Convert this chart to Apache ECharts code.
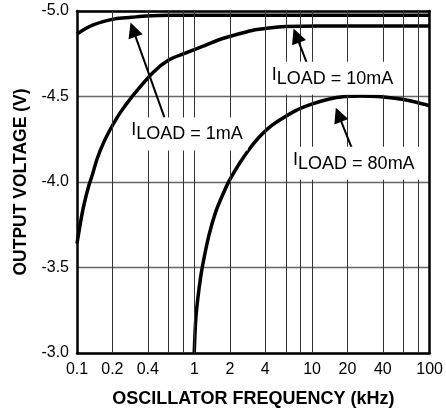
<!DOCTYPE html>
<html>
<head>
<meta charset="utf-8">
<script src="https://cdn.jsdelivr.net/npm/echarts@6/dist/echarts.min.js"></script>
<style>html,body{margin:0;padding:0;background:#fff}#c{width:446px;height:413px}</style>
</head>
<body>
<div id="c"></div>
<script>
// ---- data ----
const freqTickLabels = [0.1, 0.2, 0.4, 1, 2, 4, 10, 20, 40, 100];
const freqGridLines = [0.2, 0.4, 0.6, 0.8, 1, 2, 4, 6, 8, 10, 20, 40, 60, 80];
const voltMin = -5.0, voltMax = -3.0, voltStep = 0.5;

const f1mA = [0.1, 0.1208, 0.1373, 0.1668, 0.2095, 0.29, 0.388, 0.611, 100];
const v1mA = [-4.865, -4.900, -4.919, -4.938, -4.954, -4.963, -4.971, -4.975, -4.975];

const f10mA = [0.1, 0.1075, 0.1146, 0.1263, 0.1347, 0.1484, 0.1691, 0.1927, 0.2341, 0.29, 0.4413, 0.611, 0.8456, 1.168, 1.616, 2.237, 3.09, 4.276, 5.92, 11.3, 100];
const v10mA = [-3.64, -3.77, -3.867, -3.981, -4.039, -4.136, -4.233, -4.31, -4.407, -4.494, -4.639, -4.716, -4.755, -4.793, -4.832, -4.861, -4.886, -4.900, -4.909, -4.913, -4.913];

const f80mA = [0.9936, 1.027, 1.095, 1.168, 1.33, 1.516, 1.781, 1.963, 2.164, 2.386, 2.897, 3.52, 4.276, 5.195, 7.19, 9.93, 13.74, 19.02, 26.28, 36.36, 50.3, 69.5, 96.2, 100];
const v80mA = [-3.0, -3.209, -3.383, -3.508, -3.692, -3.827, -3.943, -4.005, -4.056, -4.104, -4.189, -4.26, -4.317, -4.358, -4.416, -4.455, -4.484, -4.5, -4.503, -4.5, -4.49, -4.474, -4.449, -4.445];

// annotation labels: [load text, box-left freq, box-center volt]
const annLabels = [['1mA', 0.267, -4.281], ['10mA', 4.195, -4.606], ['80mA', 6.37, -4.109]];
// arrows: [tail freq, tail volt, head freq, head volt]
const annArrows = [[0.554, -4.378, 0.30, -4.891], [9.01, -4.697, 7.34, -4.856], [21.9, -4.194, 16.8, -4.393]];

// ---- chart ----
const FONT = 'Liberation Sans, Arial, Helvetica, sans-serif';
const zip = (a, b) => a.map((x, i) => [x, b[i]]);
const chart = echarts.init(document.getElementById('c'), null, {renderer: 'canvas'});
const frameLine = {show: true, onZero: false, lineStyle: {color: '#000', width: 2.5}};

function annotation(k) {
  const L = annLabels[k], A = annArrows[k];
  return {
    markLine: {
      silent: true, animation: false,
      symbol: ['none', 'triangle'], symbolSize: 15,
      lineStyle: {color: '#000', width: 2, type: 'solid'},
      label: {show: false},
      data: [[{coord: [A[0], A[1]]}, {coord: [A[2], A[3]]}]]
    },
    markPoint: {
      silent: true, animation: false,
      symbol: 'circle', symbolSize: 0,
      data: [{
        coord: [L[1], L[2]],
        label: {
          show: true, position: 'right', distance: 0,
          formatter: '{i|I}{s|LOAD = ' + L[0] + '}',
          backgroundColor: '#fff', padding: [4, 5, 3, 4],
          rich: {
            i: {fontFamily: FONT, fontSize: 18, lineHeight: 18, verticalAlign: 'top', color: '#000'},
            s: {fontFamily: FONT, fontSize: 18, lineHeight: 26, verticalAlign: 'middle', color: '#000'}
          }
        }
      }]
    }
  };
}

function curve(name, f, v, k) {
  return Object.assign({
    name: name, type: 'line', z: 3,
    data: zip(f, v), showSymbol: false, symbol: 'none', smooth: 0.3,
    lineStyle: {color: '#000', width: 3.5}, animation: false
  }, annotation(k));
}

chart.setOption({
  animation: false,
  grid: {left: 77, right: 14, top: 11, bottom: 57},
  xAxis: [{
    type: 'log', logBase: 10, min: 0.1, max: 100,
    name: 'OSCILLATOR FREQUENCY (kHz)', nameLocation: 'middle', nameGap: 37,
    nameTextStyle: {fontFamily: FONT, fontSize: 18, fontWeight: 'bold', color: '#000'},
    axisLine: frameLine, axisTick: {show: false}, splitLine: {show: false},
    axisLabel: {
      customValues: freqTickLabels, margin: 9,
      fontFamily: FONT, fontSize: 16, color: '#000',
      formatter: v => String(+(+v).toPrecision(3))
    }
  }, {
    type: 'log', logBase: 10, min: 0.1, max: 100, position: 'top',
    axisLine: frameLine, axisTick: {show: false}, splitLine: {show: false}, axisLabel: {show: false}
  }],
  yAxis: [{
    type: 'value', inverse: true, min: voltMin, max: voltMax, interval: voltStep,
    name: 'OUTPUT VOLTAGE (V)', nameLocation: 'middle', nameGap: 47,
    nameTextStyle: {fontFamily: FONT, fontSize: 17.5, fontWeight: 'bold', color: '#000'},
    axisLine: frameLine, axisTick: {show: false},
    splitLine: {show: true, lineStyle: {color: '#666', width: 1.3}},
    axisLabel: {margin: 8, fontFamily: FONT, fontSize: 16, color: '#000', formatter: v => v.toFixed(1)}
  }, {
    type: 'value', inverse: true, min: voltMin, max: voltMax, interval: voltStep, position: 'right',
    axisLine: frameLine, axisTick: {show: false}, splitLine: {show: false}, axisLabel: {show: false}
  }],
  series: [
    {
      name: 'grid', type: 'line', data: [], z: 1, silent: true,
      markLine: {
        silent: true, animation: false, symbol: ['none', 'none'],
        label: {show: false},
        lineStyle: {color: '#333', width: 1, type: 'solid'},
        data: freqGridLines.map(f => ({xAxis: f}))
      }
    },
    curve('ILOAD = 1mA', f1mA, v1mA, 0),
    curve('ILOAD = 10mA', f10mA, v10mA, 1),
    curve('ILOAD = 80mA', f80mA, v80mA, 2)
  ]
});
</script>
</body>
</html>
